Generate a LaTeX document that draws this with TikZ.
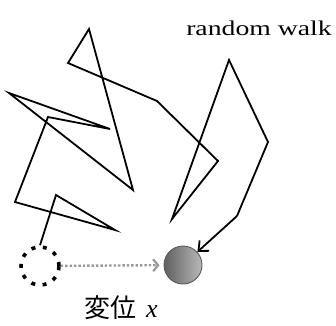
\documentclass[tikz,border=0pt]{standalone}
\usepackage{graphicx}
\usepackage{fontspec}
\setmainfont{Liberation Serif}
\newfontfamily\jpfont{Noto Sans CJK JP}
\usetikzlibrary{arrows.meta}

\begin{document}
\begin{tikzpicture}[x=1pt,y=-1pt,
    walk/.style={line width=1.8pt,line join=miter},
    ball/.style={circle,minimum size=38pt,inner sep=0pt,draw=gray!70!black,line width=0.9pt,
      left color=gray!75!black,right color=gray!55},
    origin/.style={circle,minimum size=38pt,inner sep=0pt,draw,line width=3.6pt,dash pattern=on 4pt off 7.5pt}]
      \useasboundingbox (0,0) rectangle (336,325);

      % Particles
      \node[origin] (start) at (40,266) {};
      \node[ball] (end) at (183,265) {};

      % Random walk path
      \draw[walk] (start.north) -- (56,195) -- (115,230) -- (15,202) -- (48,117)
        -- (110,129) -- (9,93) -- (133,190) -- (89,29) -- (68,63) -- (157,101)
        -- (218,161) -- (172,219) -- (229,60) -- (268,142) -- (237,216)
        coordinate (last);
      \draw[walk,-{Straight Barb[length=8pt,width=14pt,line width=1.8pt]}] (last) -- (end);

      % Displacement
      \draw[gray!80,line width=2.4pt,dotted,-{Straight Barb[length=5pt,width=12pt,line width=2.2pt]},
        shorten >=4pt] (start) -- (end);

      % Labels
      \node[font=\fontsize{21}{21}\selectfont,inner sep=0pt] (walklabel) at (259,28) {\scalebox{1.32}[1]{random walk}};
      \node[font=\fontsize{26}{26}\selectfont,inner sep=0pt,anchor=base] (xlabel) at (121,317) {{\jpfont 変位}\hspace{10pt}\textit{x}};
\end{tikzpicture}
\end{document}
